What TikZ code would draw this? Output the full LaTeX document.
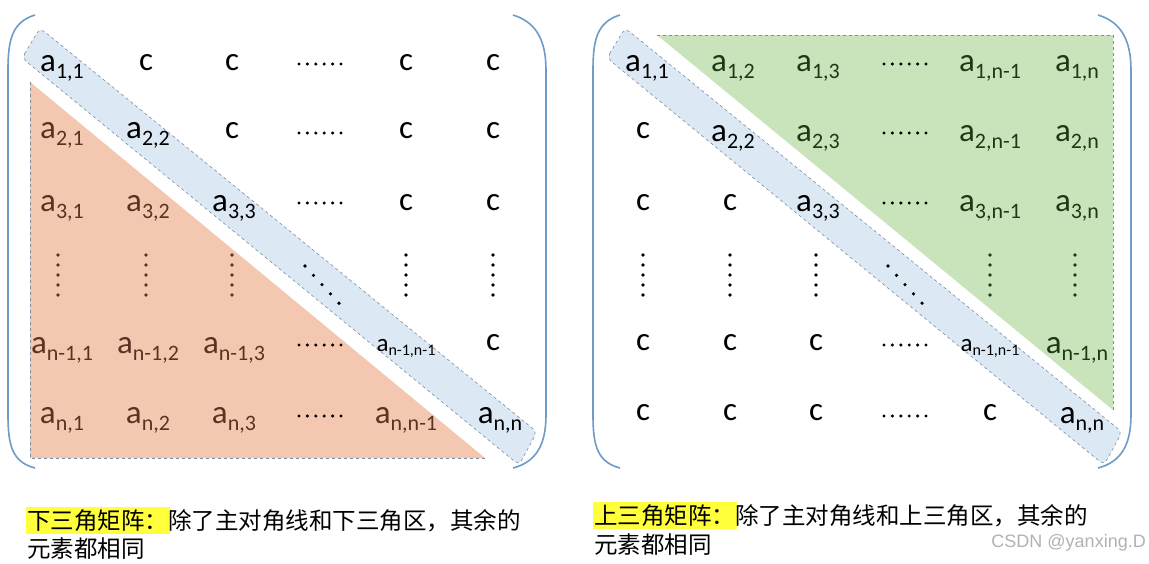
\documentclass[tikz,border=0pt]{standalone}
\usepackage{fontspec}
\setmainfont{Carlito}
\newfontfamily\cjk{Noto Sans CJK SC}
\begin{document}
\begin{tikzpicture}[x=1pt,y=-1pt,
  cell/.style={inner sep=0pt,font=\fontsize{33}{33}\selectfont},
  brk/.style={draw=bracketblue,line width=1.6pt},
  band/.style={fill=bandblue,draw=dashgray,dashed,line width=0.6pt,rounded corners=5pt},
  tri/.style={draw=dashgray,dashed,line width=0.6pt},
  lbl/.style={anchor=west,inner sep=0pt,font=\cjk\fontsize{23.5}{23.5}\selectfont}]
\definecolor{bracketblue}{HTML}{6E9BC8}
\definecolor{bandblue}{HTML}{DCE9F5}
\definecolor{dashgray}{HTML}{7A8CA0}
\definecolor{orangef}{HTML}{F4C8B0}
\definecolor{greenf}{HTML}{C9E3BA}
\definecolor{brownt}{HTML}{5A3322}
\definecolor{greent}{HTML}{1E3A14}
\definecolor{hl}{HTML}{FFFF3C}
\newcommand{\ent}[1]{a\raisebox{-7pt}{\fontsize{22}{22}\selectfont #1}}
\newcommand{\hdots}[2]{\foreach \k in {0,...,5}{\fill (#1-21+8.4*\k,#2) circle (1.7pt);}}
\newcommand{\vdotsx}[2]{\foreach \k in {0,...,4}{\fill (#1,#2-20+10*\k) circle (1.8pt);}}
\useasboundingbox (0,0) rectangle (1149,563);
\fill[white] (0,0) rectangle (1149,563);
% ===== Left matrix =====
\fill[orangef] (30,82) -- (30,458) -- (485,458) -- cycle;
\draw[tri] (30,82) -- (30,458) -- (485,458);
\draw[band] (22,58) -- (40,28) -- (537,432) -- (519,465) -- cycle;
\draw[brk] (35,15) .. controls (12,22) and (8,40) .. (8,70) -- (8,415) .. controls (8,445) and (12,462) .. (35,468);
\draw[brk] (513,15) .. controls (536,22) and (546,40) .. (546,70) -- (546,415) .. controls (546,445) and (536,462) .. (513,468);
\begin{scope}[every node/.style={cell}]
\node (l11) at (62,68) {\ent{1,1}};
\node at (146,63) {c}; \node at (232,63) {c}; \node at (406,63) {c}; \node at (493,63) {c};
\node[brownt] at (62,135) {\ent{2,1}};
\node (l22) at (148,135) {\ent{2,2}};
\node at (232,131) {c}; \node at (406,131) {c}; \node at (493,131) {c};
\node[brownt] at (62,208) {\ent{3,1}};
\node[brownt] at (148,208) {\ent{3,2}};
\node (l33) at (234,208) {\ent{3,3}};
\node at (406,203) {c}; \node at (493,203) {c};
\node[brownt] at (62,350) {\ent{n-1,1}};
\node[brownt] at (148,350) {\ent{n-1,2}};
\node[brownt] at (234,350) {\ent{n-1,3}};
\node[font=\fontsize{25}{25}\selectfont] at (406,348) {a\raisebox{-4pt}{\fontsize{16}{16}\selectfont n-1,n-1}};
\node at (493,343) {c};
\node[brownt] at (62,420) {\ent{n,1}};
\node[brownt] at (148,420) {\ent{n,2}};
\node[brownt] at (234,420) {\ent{n,3}};
\node[brownt] at (406,420) {\ent{n,n-1}};
\node (lnn) at (500,420) {\ent{n,n}};
\end{scope}
\hdots{320}{64}\hdots{320}{133}\hdots{320}{203}\hdots{320}{345}\hdots{320}{416}
\begin{scope}[brownt]\vdotsx{58}{275}\vdotsx{146}{275}\vdotsx{232}{275}\end{scope}
\vdotsx{406}{275}\vdotsx{493}{275}
\foreach \k in {0,...,4}{\fill (305+8.5*\k,266+9.3*\k) circle (1.8pt);}
% ===== Right matrix =====
\fill[greenf] (657,35) -- (1113,35) -- (1113,410) -- cycle;
\draw[tri] (657,35) -- (1113,35) -- (1113,410);
\draw[band] (607,58) -- (625,28) -- (1122,432) -- (1104,465) -- cycle;
\draw[brk] (620,15) .. controls (597,22) and (593,40) .. (593,70) -- (593,415) .. controls (593,445) and (597,462) .. (620,468);
\draw[brk] (1098,15) .. controls (1121,22) and (1131,40) .. (1131,70) -- (1131,415) .. controls (1131,445) and (1121,462) .. (1098,468);
\begin{scope}[every node/.style={cell,text=greent}]
\node at (733,68) {\ent{1,2}};
\node at (818,68) {\ent{1,3}};
\node at (990,68) {\ent{1,n-1}};
\node at (1077,68) {\ent{1,n}};
\node at (818,138) {\ent{2,3}};
\node at (990,138) {\ent{2,n-1}};
\node at (1077,138) {\ent{2,n}};
\node at (990,208) {\ent{3,n-1}};
\node at (1077,208) {\ent{3,n}};
\node at (1077,350) {\ent{n-1,n}};
\end{scope}
\begin{scope}[every node/.style={cell}]
\node (r11) at (647,68) {\ent{1,1}};
\node at (643,131) {c};
\node (r22) at (733,138) {\ent{2,2}};
\node at (643,203) {c}; \node at (730,203) {c};
\node (r33) at (818,208) {\ent{3,3}};
\node at (643,343) {c}; \node at (730,343) {c}; \node at (816,343) {c};
\node[font=\fontsize{25}{25}\selectfont] at (990,348) {a\raisebox{-4pt}{\fontsize{16}{16}\selectfont n-1,n-1}};
\node at (643,413) {c}; \node at (730,413) {c}; \node at (816,413) {c}; \node at (990,413) {c};
\node (rnn) at (1082,420) {\ent{n,n}};
\end{scope}
\hdots{905}{64}\hdots{905}{133}\hdots{905}{203}\hdots{905}{345}\hdots{905}{416}
\vdotsx{643}{275}\vdotsx{730}{275}\vdotsx{816}{275}
\begin{scope}[greent]\vdotsx{990}{275}\vdotsx{1075}{275}\end{scope}
\foreach \k in {0,...,4}{\fill (888+8.5*\k,266+9.3*\k) circle (1.8pt);}
% ===== Captions =====
\fill[hl] (26,507) rectangle (170,534);
\node[lbl] (capL) at (27,521) {下三角矩阵：除了主对角线和下三角区，其余的};
\node[lbl] (capL2) at (27,549) {元素都相同};
\fill[hl] (593,502) rectangle (737,529);
\node[lbl] (capR) at (594,516) {上三角矩阵：除了主对角线和上三角区，其余的};
\node[lbl] (capR2) at (594,545) {元素都相同};
\node[anchor=east,inner sep=0pt,text=black!30,font=\fontspec{Liberation Sans}\fontsize{18}{18}\selectfont] (wm) at (1146,543) {CSDN @yanxing.D};
\end{tikzpicture}
\end{document}
